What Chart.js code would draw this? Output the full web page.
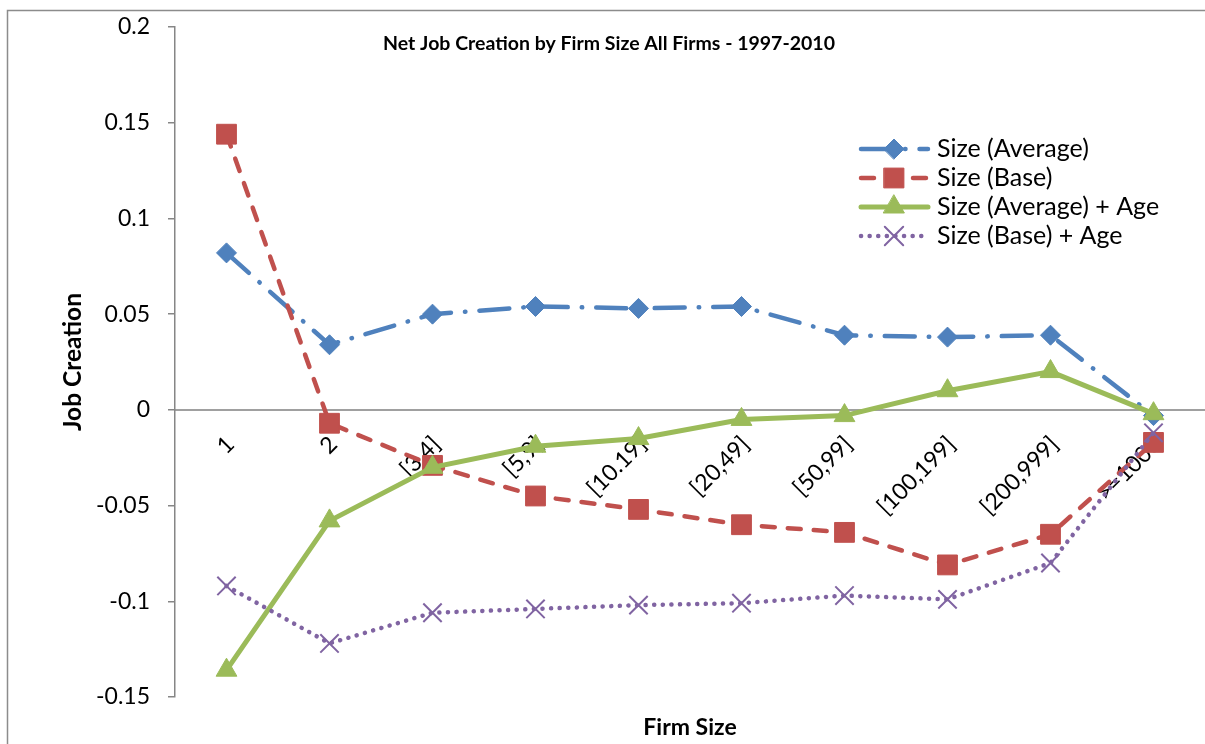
<!DOCTYPE html>
<html>
<head>
<meta charset="utf-8">
<script src="https://cdn.jsdelivr.net/npm/chart.js@4.4.1/dist/chart.umd.min.js"></script>
<style>
  html, body { margin: 0; padding: 0; background: #fff; overflow: hidden; }
  #job-chart { display: block; }
</style>
</head>
<body>
<canvas id="job-chart" width="1205" height="744"></canvas>
<script>
// ================= data =================
const firmSizes = ["1", "2", "[3,4]", "[5,9]", "[10.19]", "[20,49]", "[50,99]", "[100,199]", "[200,999]", ">=1000"]
const sizeAverage = [0.082, 0.034, 0.050, 0.054, 0.053, 0.054, 0.039, 0.038, 0.039, -0.003]
const sizeBase = [0.144, -0.007, -0.029, -0.045, -0.052, -0.060, -0.064, -0.081, -0.065, -0.017]
const sizeAverageAge = [-0.136, -0.058, -0.030, -0.019, -0.015, -0.005, -0.003, 0.010, 0.020, -0.002]
const sizeBaseAge = [-0.092, -0.122, -0.106, -0.104, -0.102, -0.101, -0.097, -0.099, -0.080, -0.012]
const yTicks = [-0.15, -0.1, -0.05, 0, 0.05, 0.1, 0.15, 0.2]

const chartTitle = "Net Job Creation by Firm Size All Firms - 1997-2010"
const font = "Lato, 'Open Sans', sans-serif"
const gray = "#868686"

// zero out the automatic label paddings so layout.padding decides the plot area
function noPadding(scale) {
  scale.paddingLeft = 0
  scale.paddingRight = 0
  scale.paddingTop = 0
  scale.paddingBottom = 0
}

// ================= title, legend, outer border =================
const excelDecor = {
  id: "excelDecor",
  beforeDraw(chart) {
    const ctx = chart.ctx
    ctx.save()
    ctx.fillStyle = "#fff"
    ctx.fillRect(0, 0, chart.width, chart.height)
    ctx.strokeStyle = "#8c8c8c"
    ctx.lineWidth = 1.5
    ctx.strokeRect(7.5, 10.5, 1400, 900)
    ctx.restore()
  },
  afterDraw(chart) {
    const ctx = chart.ctx
    ctx.save()
    ctx.fillStyle = "#000"
    ctx.font = "bold 19.5px " + font
    ctx.textAlign = "center"
    ctx.textBaseline = "middle"
    ctx.fillText(chartTitle, 609, 44)

    chart.data.datasets.forEach((ds, i) => {
      const y = 149 + i * 29
      ctx.save()
      ctx.strokeStyle = ds.borderColor
      ctx.lineWidth = ds.borderWidth
      ctx.lineCap = "round"
      ctx.setLineDash(ds.borderDash || [])
      ctx.beginPath()
      ctx.moveTo(861, y)
      ctx.lineTo(928, y)
      ctx.stroke()
      ctx.setLineDash([])
      ctx.fillStyle = ds.pointBackgroundColor
      ctx.strokeStyle = ds.pointBorderColor
      ctx.lineWidth = ds.pointBorderWidth
      Chart.helpers.drawPoint(ctx, {
        pointStyle: ds.pointStyle, radius: ds.pointRadius, rotation: 0, borderWidth: ds.pointBorderWidth
      }, 894, y)
      ctx.restore()
      ctx.fillStyle = "#000"
      ctx.font = "25px " + font
      ctx.textAlign = "left"
      ctx.textBaseline = "middle"
      ctx.fillText(ds.label, 937, y)
    })
    ctx.restore()
  }
}

const myJobs = document.getElementById("job-chart")
let jobChart = new Chart(myJobs, {
  type: "line",
  data: {
    labels: firmSizes,
    datasets: [{
      label: "Size (Average)",
      data: sizeAverage,
      borderColor: "#4f81bd",
      backgroundColor: "#4f81bd",
      borderWidth: 4.5,
      borderDash: [30, 14, 0.5, 14],
      borderCapStyle: "round",
      pointStyle: "rectRot",
      pointRadius: 10,
      pointBackgroundColor: "#4f81bd",
      pointBorderColor: "#4f81bd",
      pointBorderWidth: 1,
      order: 4
    }, {
      label: "Size (Base)",
      data: sizeBase,
      borderColor: "#c0504d",
      backgroundColor: "#c0504d",
      borderWidth: 4.5,
      borderDash: [13, 13],
      borderCapStyle: "round",
      pointStyle: "rect",
      pointRadius: 14,
      pointBackgroundColor: "#c0504d",
      pointBorderColor: "#c0504d",
      pointBorderWidth: 1,
      order: 3
    }, {
      label: "Size (Average) + Age",
      data: sizeAverageAge,
      borderColor: "#9bbb59",
      backgroundColor: "#9bbb59",
      borderWidth: 5,
      pointStyle: "triangle",
      pointRadius: 12,
      pointBackgroundColor: "#9bbb59",
      pointBorderColor: "#9bbb59",
      pointBorderWidth: 1,
      order: 2
    }, {
      label: "Size (Base) + Age",
      data: sizeBaseAge,
      borderColor: "#8064a2",
      backgroundColor: "#8064a2",
      borderWidth: 4.5,
      borderDash: [0.1, 8.5],
      borderCapStyle: "round",
      pointStyle: "crossRot",
      pointRadius: 13,
      pointBackgroundColor: "#8064a2",
      pointBorderColor: "#8064a2",
      pointBorderWidth: 2,
      order: 1
    }]
  },
  options: {
    responsive: false,
    animation: false,
    devicePixelRatio: 1,
    layout: { autoPadding: false, padding: { left: 55, top: 27, right: -5, bottom: 0 } },
    plugins: {
      legend: { display: false },
      tooltip: { enabled: false }
    },
    scales: {
      x: {
        type: "category",
        offset: true,
        position: { y: 0 },
        grid: { display: true, drawOnChartArea: false, drawTicks: false },
        border: { display: true, color: "#a0a0a0", width: 2 },
        ticks: {
          color: "#000",
          font: { family: font, size: 23 },
          minRotation: 45,
          maxRotation: 45,
          autoSkip: false,
          padding: 21,
          labelOffset: 4
        },
        afterFit(scale) {
          scale.height = 0
          noPadding(scale)
        }
      },
      x2: {
        type: "category",
        offset: true,
        position: "bottom",
        grid: { display: false },
        border: { display: false },
        ticks: { display: false },
        title: {
          display: true,
          text: "Firm Size",
          color: "#000",
          font: { family: font, size: 23, weight: "bold" },
          padding: { top: 0, bottom: 3 }
        },
        afterFit(scale) {
          scale.height = 47
          noPadding(scale)
        }
      },
      y: {
        min: -0.15,
        max: 0.2,
        afterBuildTicks(scale) { scale.ticks = yTicks.map(v => ({ value: v })) },
        grid: { display: true, drawOnChartArea: false, drawTicks: true, tickLength: 7, color: gray, lineWidth: 1.5 },
        border: { display: true, color: gray, width: 1.5 },
        ticks: {
          color: "#000",
          font: { family: font, size: 23 },
          padding: 18,
          callback: v => String(+(+v).toFixed(2))
        },
        title: {
          display: true,
          text: "Job Creation",
          color: "#000",
          font: { family: font, size: 24.5, weight: "bold" },
          padding: { top: 3, bottom: 4 }
        },
        afterFit(scale) {
          scale.width = 120
          noPadding(scale)
        }
      }
    }
  },
  plugins: [excelDecor]
})
</script>
</body>
</html>
